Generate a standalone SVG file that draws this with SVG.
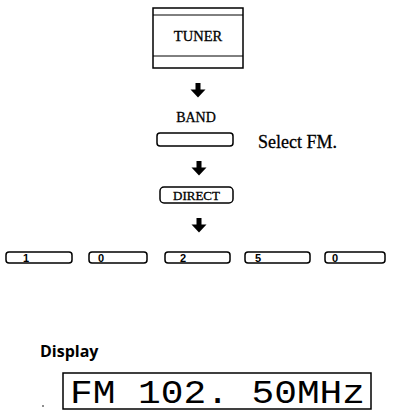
<svg xmlns="http://www.w3.org/2000/svg" width="393" height="417" viewBox="0 0 393 417">
<defs>
<style>
.serif{font-family:"Liberation Serif","Times New Roman",serif;fill:#000;stroke:#000;stroke-width:0.3}
.btn{fill:none;stroke:#000;stroke-width:1.5}
.arr{fill:#000}
.num{font-family:"Liberation Sans",Arial,sans-serif;font-size:11px;font-weight:bold;fill:#000}
</style>
</defs>
<rect width="393" height="417" fill="#fff"/>
<g id="tuner">
<rect class="btn" x="153" y="8" width="90" height="60" stroke-width="1.3"/>
<line x1="153" y1="15" x2="243" y2="15" stroke="#000" stroke-width="1"/>
<line x1="153" y1="56" x2="243" y2="56" stroke="#000" stroke-width="1"/>
<text class="serif" x="198" y="41" font-size="14.5" text-anchor="middle">TUNER</text>
</g>
<g id="connectors">
<path class="arr" d="M195.5 83h5v6.5h5l-7.5 8l-7.5-8h5z"/>
<path class="arr" d="M196.5 161h5v6.5h5l-7.5 8l-7.5-8h5z"/>
<path class="arr" d="M196.5 218h5v6.5h5l-7.5 8l-7.5-8h5z"/>
</g>
<g id="band">
<text class="serif" x="196" y="122" font-size="14" text-anchor="middle">BAND</text>
<rect class="btn" x="157" y="133" width="76" height="13" rx="3"/>
<text class="serif" x="258" y="148" font-size="18">Select FM.</text>
</g>
<g id="direct">
<rect class="btn" x="160" y="187" width="73" height="16" rx="4"/>
<text class="serif" x="196.5" y="200" font-size="13" text-anchor="middle">DIRECT</text>
</g>
<g id="key1"><rect class="btn" x="6" y="252" width="66" height="11" rx="3"/><text class="num" x="23" y="262">1</text></g>
<g id="key0a"><rect class="btn" x="89" y="252" width="58" height="11" rx="3"/><text class="num" x="98" y="262">0</text></g>
<g id="key2"><rect class="btn" x="165" y="252" width="65" height="11" rx="3"/><text class="num" x="180" y="262">2</text></g>
<g id="key5"><rect class="btn" x="245" y="252" width="65" height="11" rx="3"/><text class="num" x="255" y="262">5</text></g>
<g id="key0b"><rect class="btn" x="325" y="252" width="60" height="11" rx="3"/><text class="num" x="332" y="262">0</text></g>
<g id="display">
<text x="40" y="357" font-family="'Open Sans','Liberation Sans',sans-serif" font-weight="bold" font-size="16">Display</text>
<rect class="btn" x="63" y="373" width="308" height="36" stroke-width="1.3"/>
<text x="70" y="403" font-family="'Liberation Mono','DejaVu Sans Mono',monospace" font-size="34" textLength="295" lengthAdjust="spacingAndGlyphs">FM 102. 50MHz</text>
<circle cx="43" cy="406" r="0.8" fill="#000"/>
</g>
</svg>
